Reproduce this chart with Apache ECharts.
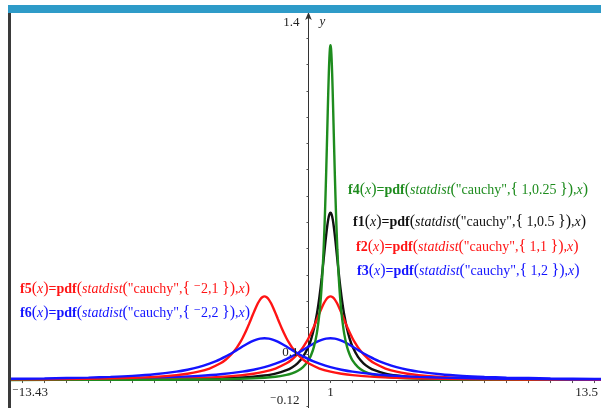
<!DOCTYPE html>
<html>
<head>
<meta charset="utf-8">
<script src="https://cdn.jsdelivr.net/npm/echarts@6/dist/echarts.min.js"></script>
<style>
  html, body { margin: 0; padding: 0; background: #fff; overflow: hidden; }
  /* the graph window runs a few pixels past the visible right and bottom edges */
  #chart { width: 610px; height: 416px; }
</style>
</head>
<body>
<div id="chart"></div>
<script>
// Cauchy densities pdf(statdist("cauchy",{x0,g}),x).
// Each profile is one half of a symmetric curve: distance from the centre x0
// and the density value at that distance.
const offsetsG025 = [0, 0.025, 0.05, 0.075, 0.1, 0.125, 0.15, 0.175, 0.2, 0.225, 0.25, 0.275, 0.3125, 0.375, 0.4375, 0.5, 0.625, 0.75, 0.875, 1, 1.25, 1.5, 1.75, 2, 2.5, 3.5, 5, 7.5, 10, 15.5];
const heightsG025 = [1.27324, 1.26064, 1.22428, 1.16812, 1.09764, 1.01860, 0.93620, 0.85452, 0.77636, 0.70344, 0.63662, 0.57612, 0.49688, 0.39176, 0.31340, 0.25465, 0.17564, 0.12732, 0.09608, 0.07488, 0.04896, 0.03440, 0.02548, 0.01960, 0.01260, 0.00648, 0.00316, 0.00140, 0.00080, 0.00033];

const offsetsG05 = [0, 0.05, 0.1, 0.15, 0.2, 0.25, 0.3, 0.35, 0.4, 0.45, 0.5, 0.55, 0.625, 0.75, 0.875, 1, 1.25, 1.5, 1.75, 2, 2.5, 3, 3.5, 4, 5, 7, 10, 15, 20];
const heightsG05 = [0.63662, 0.63032, 0.61214, 0.58406, 0.54882, 0.50930, 0.46810, 0.42726, 0.38818, 0.35172, 0.31831, 0.28806, 0.24844, 0.19588, 0.15670, 0.12732, 0.08782, 0.06366, 0.04804, 0.03744, 0.02448, 0.01720, 0.01274, 0.00980, 0.00630, 0.00324, 0.00158, 0.00070, 0.00040];

const offsetsG1 = [0, 0.1, 0.2, 0.3, 0.4, 0.5, 0.6, 0.7, 0.8, 0.9, 1, 1.1, 1.25, 1.5, 1.75, 2, 2.5, 3, 3.5, 4, 5, 6, 7, 8, 10, 14, 20];
const heightsG1 = [0.31831, 0.31516, 0.30607, 0.29203, 0.27441, 0.25465, 0.23405, 0.21363, 0.19409, 0.17586, 0.15915, 0.14403, 0.12422, 0.09794, 0.07835, 0.06366, 0.04391, 0.03183, 0.02402, 0.01872, 0.01224, 0.00860, 0.00637, 0.00490, 0.00315, 0.00162, 0.00079];

const offsetsG2 = [0, 0.2, 0.4, 0.6, 0.8, 1, 1.2, 1.4, 1.6, 1.8, 2, 2.2, 2.5, 3, 3.5, 4, 5, 6, 7, 8, 10, 12, 14, 16, 20];
const heightsG2 = [0.15915, 0.15758, 0.15304, 0.14602, 0.13720, 0.12732, 0.11702, 0.10682, 0.09704, 0.08793, 0.07958, 0.07202, 0.06211, 0.04897, 0.03918, 0.03183, 0.02196, 0.01592, 0.01201, 0.00936, 0.00612, 0.00430, 0.00319, 0.00245, 0.00158];

// The six functions: name, location parameter, scale parameter text, colour
const curveNames   = ['f1', 'f2', 'f3', 'f4', 'f5', 'f6'];
const curveCenters = [1, 1, 1, 1, -2, -2];
const curveParams  = ['1,0.5', '1,1', '1,2', '1,0.25', '\u207B2,1', '\u207B2,2'];
const curveColors  = ['#111111', '#ff1414', '#1414ff', '#1e8c1e', '#ff1414', '#1414ff'];
const curveOffsets = [offsetsG05, offsetsG1, offsetsG2, offsetsG025, offsetsG1, offsetsG2];
const curveHeights = [heightsG05, heightsG1, heightsG2, heightsG025, heightsG1, heightsG2];

// Axis window and tick positions
const xMin = -13.43, xMax = 13.5;
const yMin = -0.12, yMax = 1.4;
const xTicks = [-13, -12, -11, -10, -9, -8, -7, -6, -5, -4, -3, -2, -1, 1, 2, 3, 4, 5, 6, 7, 8, 9, 10, 11, 12, 13];
const yTicks = [-0.1, 0.1, 0.2, 0.3, 0.4, 0.5, 0.6, 0.7, 0.8, 0.9, 1.0, 1.1, 1.2, 1.3];

function curvePoints(center, offs, hs) {
  const pts = [];
  for (let i = offs.length - 1; i > 0; i--) pts.push([center - offs[i], hs[i]]);
  for (let i = 0; i < offs.length; i++) pts.push([center + offs[i], hs[i]]);
  return pts;
}

const chart = echarts.init(document.getElementById('chart'), null, { renderer: 'canvas' });

const series = curveNames.map((name, k) => ({
  name: name,
  type: 'line',
  data: curvePoints(curveCenters[k], curveOffsets[k], curveHeights[k]),
  showSymbol: false,
  smooth: 0.25,
  clip: true,
  lineStyle: { color: curveColors[k], width: 2.4 },
  z: 3 + k,
  animation: false
}));

chart.setOption({
  animation: false,
  backgroundColor: '#ffffff',
  grid: { left: 13, right: 4.5, top: 12, bottom: 4.4, containLabel: false },
  xAxis: {
    type: 'value', min: xMin, max: xMax,
    axisLine: { onZero: true, lineStyle: { color: '#333', width: 1 } },
    axisTick: { show: true, length: 3, customValues: xTicks, lineStyle: { color: '#555' } },
    axisLabel: { show: false },
    splitLine: { show: false }
  },
  yAxis: {
    type: 'value', min: yMin, max: yMax,
    axisLine: { onZero: true, symbol: ['none', 'arrow'], symbolSize: [5, 8], lineStyle: { color: '#333', width: 1 } },
    axisTick: { show: true, length: 2, customValues: yTicks, lineStyle: { color: '#555' } },
    axisLabel: { show: false },
    splitLine: { show: false }
  },
  series: series
});

// Text drawn next to the axes, positioned from the axis scales
const serif = '"Liberation Serif", "Times New Roman", "DejaVu Serif", serif';
const toPx = (x, y) => chart.convertToPixel({ gridIndex: 0 }, [x, y]);
const origin = toPx(0, 0);
const axisFont = '13px ' + serif;

function axisText(text, x, y, align, font) {
  return { type: 'text', x: x, y: y, z: 20,
    style: { text: text, font: font || axisFont, fill: '#222', align: align, verticalAlign: 'middle' } };
}

const graphics = [
  // window frame: blue title strip and dark left edge
  { type: 'rect', shape: { x: 8, y: 5, width: 602, height: 8 }, style: { fill: '#2e9bc8' }, z: 30 },
  { type: 'rect', shape: { x: 8, y: 13, width: 3, height: 403 }, style: { fill: '#3a3a3a' }, z: 30 },
  axisText('1.4', origin[0] - 9, toPx(0, yMax)[1] + 11, 'right'),
  axisText('y', origin[0] + 11, toPx(0, yMax)[1] + 10, 'left', 'italic 13px ' + serif),
  axisText('0.1', origin[0] - 10, toPx(0, 0.1)[1] - 1, 'right'),
  axisText('\u207B0.12', origin[0] - 9, toPx(0, yMin)[1] - 11, 'right'),
  axisText('\u207B13.43', toPx(xMin, 0)[0] - 1, origin[1] + 13, 'left'),
  axisText('1', toPx(1, 0)[0], origin[1] + 13, 'center'),
  axisText('13.5', 598, origin[1] + 13, 'right')
];

// Function definitions written in the graph, one styled run per piece
const fonts = {
  b: 'bold 14px ' + serif,
  i: 'italic 14px ' + serif,
  n: '14px ' + serif,
  p: '16px ' + serif
};
const measure = document.createElement('canvas').getContext('2d');

function formula(name, params, color, x, y) {
  const parts = [
    [name, 'b'], ['(', 'p'], ['x', 'i'], [')', 'p'], ['=pdf', 'b'], ['(', 'p'],
    ['statdist', 'i'], ['(', 'p'], ['"cauchy",', 'n'], ['{', 'p'], [' ' + params + ' ', 'n'],
    ['}', 'p'], [')', 'p'], [',', 'n'], ['x', 'i'], [')', 'p']
  ];
  let cx = x;
  parts.forEach(([t, s]) => {
    measure.font = fonts[s];
    graphics.push({ type: 'text', x: cx, y: y, z: 25,
      style: { text: t, font: fonts[s], fill: color, verticalAlign: 'middle' } });
    cx += measure.measureText(t).width;
  });
}

// label anchor (left, middle) for f1..f6
const labelAnchors = [[353, 222], [356, 247], [357, 271], [348, 190], [20, 289], [20, 313]];
curveNames.forEach((name, k) => {
  formula(name, curveParams[k], curveColors[k], labelAnchors[k][0], labelAnchors[k][1]);
});

chart.setOption({ graphic: graphics });
</script>
</body>
</html>
